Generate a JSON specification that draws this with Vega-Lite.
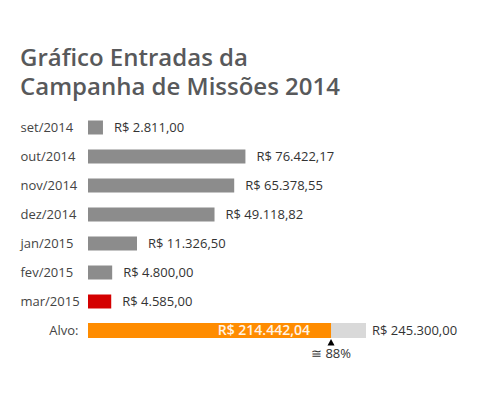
{
  "$schema": "https://vega.github.io/schema/vega-lite/v6.json",
  "width": 278,
  "height": {"step": 29},
  "padding": {"left": 20, "top": 47, "right": 5, "bottom": 5},
  "title": {
    "text": ["Gráfico Entradas da", "Campanha de Missões 2014"],
    "anchor": "start",
    "frame": "bounds",
    "font": "Open Sans",
    "fontSize": 24,
    "fontWeight": 600,
    "color": "#58595b",
    "lineHeight": 29,
    "offset": 13
  },
  "datasets": {
    "meses": [
      {"rotulo": "set/2014", "valor": 2811.00, "cor": "normal"},
      {"rotulo": "out/2014", "valor": 76422.17, "cor": "normal"},
      {"rotulo": "nov/2014", "valor": 65378.55, "cor": "normal"},
      {"rotulo": "dez/2014", "valor": 49118.82, "cor": "normal"},
      {"rotulo": "jan/2015", "valor": 11326.50, "cor": "normal"},
      {"rotulo": "fev/2015", "valor": 4800.00, "cor": "normal"},
      {"rotulo": "mar/2015", "valor": 4585.00, "cor": "destaque"}
    ],
    "alvo": [
      {"rotulo": "Alvo:", "arrecadado": 214442.04, "meta": 245300.00, "aproximado": "≅ 88%"}
    ]
  },
  "encoding": {
    "y": {
      "field": "rotulo",
      "type": "nominal",
      "sort": null,
      "title": null,
      "scale": {"domain": ["set/2014", "out/2014", "nov/2014", "dez/2014", "jan/2015", "fev/2015", "mar/2015", "Alvo:"]},
      "axis": {
        "domain": false,
        "ticks": false,
        "grid": false,
        "labelFont": "Open Sans",
        "labelFontSize": 13,
        "labelColor": "#444444",
        "labelAlign": {"condition": {"test": "datum.value === 'Alvo:'", "value": "right"}, "value": "left"},
        "labelPadding": {"condition": {"test": "datum.value === 'Alvo:'", "value": 10}, "value": 68}
      }
    }
  },
  "layer": [
    {
      "data": {"name": "meses"},
      "encoding": {
        "x": {
          "field": "valor",
          "type": "quantitative",
          "axis": null,
          "scale": {"type": "symlog", "constant": 15000, "domain": [0, 350000], "nice": false}
        }
      },
      "layer": [
        {
          "mark": {"type": "bar", "size": 14},
          "encoding": {
            "color": {
              "field": "cor",
              "type": "nominal",
              "legend": null,
              "scale": {"domain": ["normal", "destaque"], "range": ["#8c8c8c", "#d40000"]}
            }
          }
        },
        {
          "mark": {"type": "text", "align": "left", "dx": 11, "font": "Open Sans", "fontSize": 13, "color": "#333333"},
          "encoding": {"text": {"field": "valor", "type": "quantitative", "format": "$,.2f"}}
        }
      ]
    },
    {
      "data": {"name": "alvo"},
      "layer": [
        {
          "mark": {"type": "bar", "size": 15, "color": "#d9d9d9"},
          "encoding": {"x": {"field": "meta", "type": "quantitative", "axis": null, "scale": {"domain": [0, 245300], "nice": false}}}
        },
        {
          "mark": {"type": "bar", "size": 15, "color": "#ff8c00"},
          "encoding": {"x": {"field": "arrecadado", "type": "quantitative", "axis": null}}
        },
        {
          "mark": {"type": "text", "align": "right", "dx": -21, "font": "Open Sans", "fontSize": 14, "fontWeight": 600, "color": "#fff4e6"},
          "encoding": {
            "x": {"field": "arrecadado", "type": "quantitative", "axis": null},
            "text": {"field": "arrecadado", "type": "quantitative", "format": "$,.2f"}
          }
        },
        {
          "mark": {"type": "text", "align": "left", "dx": 6, "font": "Open Sans", "fontSize": 13, "color": "#333333"},
          "encoding": {
            "x": {"field": "meta", "type": "quantitative", "axis": null},
            "text": {"field": "meta", "type": "quantitative", "format": "$,.2f"}
          }
        },
        {
          "mark": {"type": "point", "shape": "M0,1.7L0.7,3L-0.7,3Z", "size": 100, "filled": true, "color": "#000000", "opacity": 1, "strokeWidth": 0},
          "encoding": {"x": {"field": "arrecadado", "type": "quantitative", "axis": null}}
        },
        {
          "mark": {"type": "text", "align": "center", "baseline": "alphabetic", "dy": 27.5, "font": "Open Sans", "fontSize": 13, "color": "#333333"},
          "encoding": {
            "x": {"field": "arrecadado", "type": "quantitative", "axis": null},
            "text": {"field": "aproximado", "type": "nominal"}
          }
        }
      ]
    }
  ],
  "resolve": {"scale": {"x": "independent"}},
  "config": {
    "view": {"stroke": null},
    "locale": {"number": {"decimal": ",", "thousands": ".", "grouping": [3], "currency": ["R$ ", ""]}}
  }
}
